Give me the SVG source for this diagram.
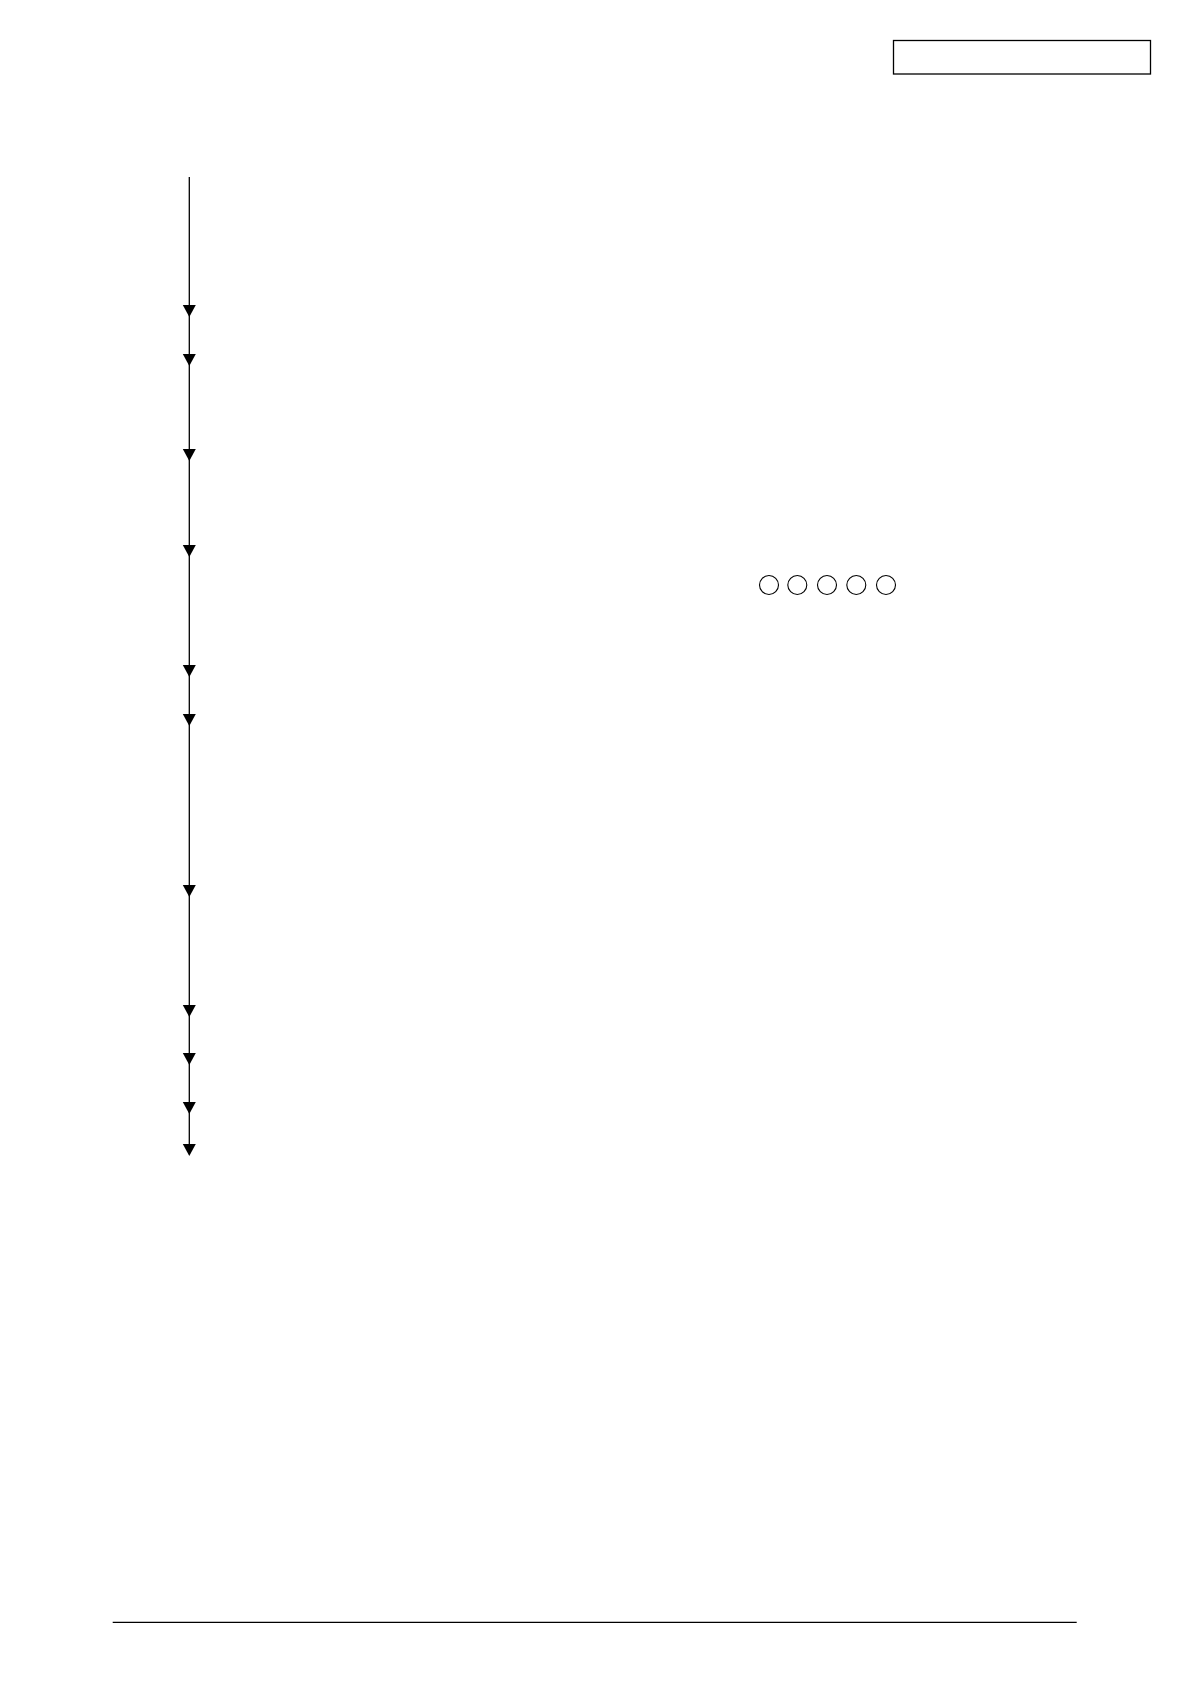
<svg xmlns="http://www.w3.org/2000/svg" xmlns:xlink="http://www.w3.org/1999/xlink" width="1190" height="1684" viewBox="0 0 1190 1684">
<style>
.ln{stroke:#000;stroke-width:1.3;fill:none}
.hd{fill:#000;stroke:none}
.cir{fill:none;stroke:#000;stroke-width:1.1}
</style>
<defs>
<path id="ah" d="M-6.5,-12 L6.5,-12 L0,0 Z"/>
</defs>
<rect width="1190" height="1684" fill="#fff"/>
<g id="header-box">
<rect x="893.5" y="40.5" width="257" height="33.5" class="ln" stroke-width="1.4"/>
</g>
<g id="connectors">
<line x1="189.3" y1="177" x2="189.3" y2="1146" class="ln"/>
<use xlink:href="#ah" class="hd" x="189.3" y="317"/>
<use xlink:href="#ah" class="hd" x="189.3" y="366"/>
<use xlink:href="#ah" class="hd" x="189.3" y="461"/>
<use xlink:href="#ah" class="hd" x="189.3" y="557"/>
<use xlink:href="#ah" class="hd" x="189.3" y="677"/>
<use xlink:href="#ah" class="hd" x="189.3" y="726"/>
<use xlink:href="#ah" class="hd" x="189.3" y="897"/>
<use xlink:href="#ah" class="hd" x="189.3" y="1017"/>
<use xlink:href="#ah" class="hd" x="189.3" y="1065"/>
<use xlink:href="#ah" class="hd" x="189.3" y="1114"/>
<use xlink:href="#ah" class="hd" x="189.3" y="1156"/>
</g>
<g id="circles">
<circle cx="769" cy="585" r="9.5" class="cir"/>
<circle cx="797.3" cy="585" r="9.5" class="cir"/>
<circle cx="827" cy="585" r="9.5" class="cir"/>
<circle cx="856.3" cy="585" r="9.5" class="cir"/>
<circle cx="886" cy="585" r="9.5" class="cir"/>
</g>
<g id="footer-rule">
<line x1="112.7" y1="1622.3" x2="1076.7" y2="1622.3" class="ln"/>
</g>
</svg>
